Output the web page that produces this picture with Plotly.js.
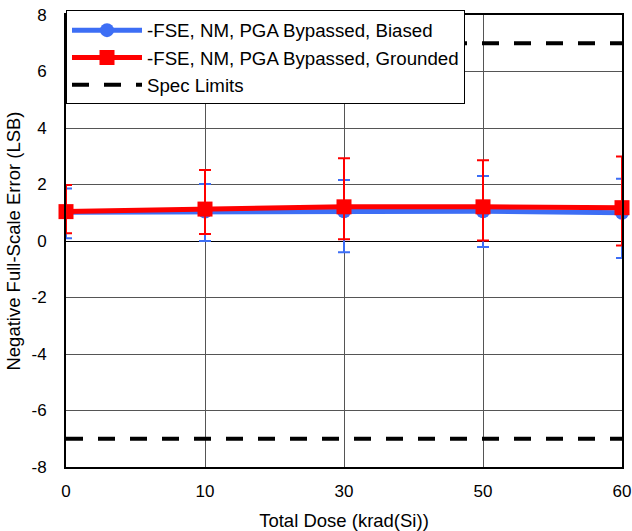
<!DOCTYPE html>
<html><head><meta charset="utf-8">
<script src="https://cdn.plot.ly/plotly-3.0.1.min.js"></script>
<style>html,body{margin:0;padding:0;background:#fff}#chart{width:632px;height:531px}</style>
</head><body><div id="chart"></div>
<script>
const doses = ["0", "10", "30", "50", "60"];
const biased = [1.02, 1.04, 1.05, 1.05, 1.00];
const biasedErrPlus = [0.84, 0.98, 1.11, 1.25, 1.20];
const biasedErrMinus = [0.92, 1.04, 1.45, 1.26, 1.60];
const grounded = [1.04, 1.13, 1.21, 1.21, 1.18];
const groundedErrPlus = [0.94, 1.38, 1.72, 1.65, 1.81];
const groundedErrMinus = [0.77, 0.88, 1.15, 1.19, 1.34];
const specUpper = [7, 7, 7, 7, 7];
const specLower = [-7, -7, -7, -7, -7];
const yTickValues = [-8, -6, -4, -2, 0, 2, 4, 6, 8];
const yTickLabels = ["-8", "-6", "-4", "-2", "0", "2", "4", "6", "8"];

const font = "Liberation Sans, Arial, sans-serif";
const traces = [
  {x: doses, y: biased, name: "-FSE, NM, PGA Bypassed, Biased", type: "scatter", mode: "lines+markers",
   line: {color: "#3d6ef5", width: 5}, marker: {symbol: "circle", size: 14, color: "#3d6ef5"},
   error_y: {type: "data", symmetric: false, array: biasedErrPlus, arrayminus: biasedErrMinus, color: "#3d6ef5", thickness: 2, width: 6},
   cliponaxis: false},
  {x: doses, y: grounded, name: "-FSE, NM, PGA Bypassed, Grounded", type: "scatter", mode: "lines+markers",
   line: {color: "#ff0000", width: 5}, marker: {symbol: "square", size: 15, color: "#ff0000"},
   error_y: {type: "data", symmetric: false, array: groundedErrPlus, arrayminus: groundedErrMinus, color: "#ff0000", thickness: 2, width: 6},
   cliponaxis: false},
  {x: doses, y: specUpper, name: "Spec Limits", type: "scatter", mode: "lines",
   line: {color: "#000", width: 4, dash: "17px,15px"}},
  {x: doses, y: specLower, name: "Spec Limits", type: "scatter", mode: "lines", showlegend: false,
   line: {color: "#000", width: 4, dash: "17px,15px"}}
];
const layout = {
  width: 632, height: 531,
  margin: {l: 66, r: 10, t: 15, b: 64},
  paper_bgcolor: "#fff", plot_bgcolor: "#fff",
  font: {family: font, size: 17, color: "#000"},
  showlegend: true,
  legend: {x: 0, y: 1.01, xanchor: "left", yanchor: "top", bgcolor: "#fff", bordercolor: "#000", borderwidth: 1,
           font: {family: font, size: 18.7, color: "#000"}, itemwidth: 70, tracegroupgap: 0},
  xaxis: {type: "category", range: [0, 4], showgrid: true, gridcolor: "#555", gridwidth: 1,
          showline: true, linecolor: "#000", linewidth: 2, mirror: true,
          ticks: "outside", ticklen: 8, tickcolor: "rgba(0,0,0,0)",
          tickfont: {family: font, size: 17, color: "#000"},
          title: {text: "Total Dose (krad(Si))", font: {family: font, size: 18.5, color: "#000"}, standoff: 14}},
  yaxis: {range: [-8, 8], tickmode: "array", tickvals: yTickValues, ticktext: yTickLabels,
          showgrid: true, gridcolor: "#555", gridwidth: 1,
          zeroline: true, zerolinecolor: "#000", zerolinewidth: 1,
          showline: true, linecolor: "#000", linewidth: 2, mirror: true,
          ticks: "outside", ticklen: 14, tickcolor: "rgba(0,0,0,0)",
          tickfont: {family: font, size: 17, color: "#000"},
          title: {text: "Negative Full-Scale Error (LSB)", font: {family: font, size: 18.5, color: "#000"}, standoff: 6}}
};
Plotly.newPlot("chart", traces, layout, {displayModeBar: false, staticPlot: true});
</script></body></html>
